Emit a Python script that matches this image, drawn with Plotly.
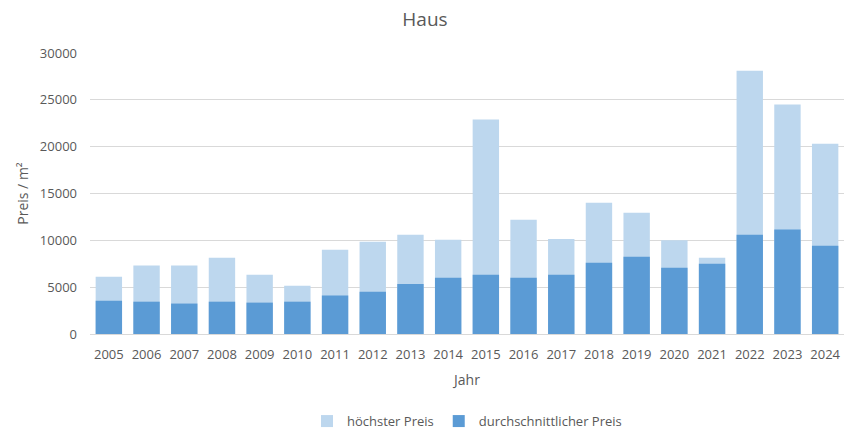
import plotly.graph_objects as go

years = [str(y) for y in range(2005, 2025)]
hoechster = [6100, 7300, 7300, 8150, 6330, 5150, 9000, 9850, 10600, 10050,
             22900, 12200, 10150, 14000, 12950, 10000, 8150, 28100, 24500, 20300]
durchschnitt = [3550, 3450, 3250, 3450, 3350, 3450, 4100, 4500, 5350, 6000,
                6330, 6000, 6330, 7600, 8250, 7080, 7500, 10600, 11150, 9430]

font_c = "#595959"
fig = go.Figure()
fig.add_trace(go.Bar(x=years, y=hoechster, name="höchster Preis",
                     marker=dict(color="#BDD7EE", line=dict(width=0))))
fig.add_trace(go.Bar(x=years, y=durchschnitt, name="durchschnittlicher Preis",
                     marker=dict(color="#5B9BD5", line=dict(width=0))))

fig.update_layout(
    width=850, height=434,
    barmode="overlay", bargap=0.3,
    paper_bgcolor="white", plot_bgcolor="white",
    margin=dict(l=90, r=6, t=53, b=100, autoexpand=False),
    font=dict(family="Open Sans", size=13, color=font_c),
    title=dict(text="Haus", x=0.5, xanchor="center", y=0.955, yanchor="middle",
               font=dict(size=19, color=font_c)),
    legend=dict(orientation="h", x=0.5, xanchor="center", y=-0.31, yanchor="middle",
                font=dict(size=13, color=font_c), itemwidth=30, traceorder="normal"),
    showlegend=True,
)
fig.update_xaxes(type="category", showgrid=False, ticks="", showline=True,
                 linecolor="#D9D9D9", linewidth=1, automargin=False,
                 ticklabelstandoff=8,
                 title=dict(text="Jahr", font=dict(size=14, color=font_c), standoff=13),
                 tickfont=dict(size=13, color=font_c))
fig.update_yaxes(range=[0, 30000], dtick=5000, showgrid=True, gridcolor="#D9D9D9",
                 zeroline=False, showline=False, ticks="", tickformat="d",
                 automargin=False, ticklabelstandoff=12,
                 title=dict(text="Preis / m²", font=dict(size=14, color=font_c), standoff=7),
                 tickfont=dict(size=13, color=font_c))

fig.write_html("out.html")
